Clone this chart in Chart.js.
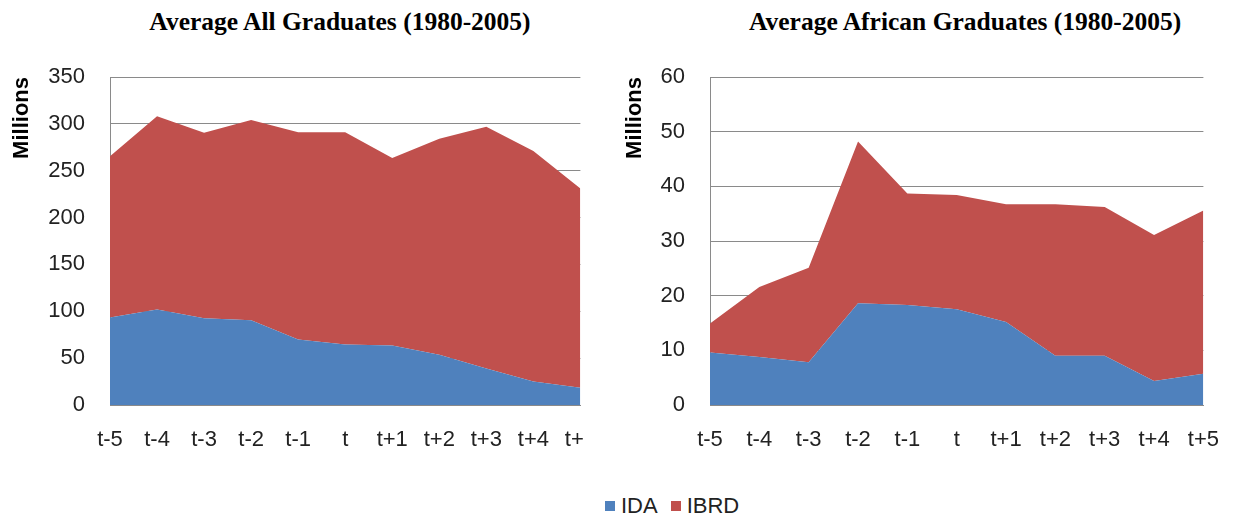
<!DOCTYPE html>
<html>
<head>
<meta charset="utf-8">
<script src="https://cdn.jsdelivr.net/npm/chart.js@4"></script>
<style>
  html, body { margin: 0; padding: 0; background: #fff; }
  body { width: 1239px; height: 516px; position: relative; overflow: hidden; }
  .panel { position: absolute; top: 0; height: 460px; overflow: hidden; }
  .title { position: absolute; top: 8px; font-family: "Liberation Serif", serif; font-weight: bold; font-size: 25.5px; line-height: 28px; color: #000; text-align: center; white-space: nowrap; }
  #legend { position: absolute; top: 493px; left: 605px; display: flex; align-items: center; font-family: "Liberation Sans", Arial, sans-serif; font-size: 22px; color: #222; }
  #legend .item { display: flex; align-items: center; margin-right: 13px; }
  #legend .sw { width: 10px; height: 10px; margin-right: 6px; }
</style>
</head>
<body>
<div class="title" style="left:140px;width:400px;">Average All Graduates (1980-2005)</div>
<div class="title" style="left:749px;width:400px;">Average African Graduates (1980-2005)</div>
<div class="panel" style="left:0;width:583px;"><canvas id="c1" width="618" height="460"></canvas></div>
<div class="panel" style="left:613px;width:626px;"><canvas id="c2" width="628" height="460"></canvas></div>
<div id="legend"></div>
<script>
// ---- data ----
const categories = ['t-5','t-4','t-3','t-2','t-1','t','t+1','t+2','t+3','t+4','t+5'];
const seriesNames = ['IDA', 'IBRD'];
const allIDA  = [93.5, 102, 92.5, 90.5, 70, 64.5, 63.5, 53.5, 39, 25, 18.5];
const allIBRD = [172, 206, 198, 213.5, 221, 226.5, 200, 230.5, 258, 246, 212.5];
const africaIDA  = [9.6, 8.8, 7.8, 18.6, 18.3, 17.5, 15.2, 9.0, 9.0, 4.4, 5.7];
const africaIBRD = [5.3, 12.8, 17.3, 29.6, 20.4, 20.9, 21.5, 27.7, 27.2, 26.7, 29.9];
const allTicks = [0, 50, 100, 150, 200, 250, 300, 350];
const africaTicks = [0, 10, 20, 30, 40, 50, 60];
const yTitle = 'Millions';

const colors = ['#4F81BD', '#C0504D'];
const gridColor = '#8A8A8A';
const tickColor = '#222222';

function makeChart(id, ida, ibrd, ticks, axisWidth, padRight) {
  const step = ticks[1] - ticks[0];
  return new Chart(document.getElementById(id), {
    type: 'line',
    data: {
      labels: categories,
      datasets: [
        { label: seriesNames[0], data: ida, backgroundColor: colors[0], borderColor: colors[0], borderWidth: 0, fill: 'origin', pointRadius: 0, tension: 0 },
        { label: seriesNames[1], data: ibrd, backgroundColor: colors[1], borderColor: colors[1], borderWidth: 0, fill: '-1', pointRadius: 0, tension: 0 }
      ]
    },
    options: {
      responsive: false,
      animation: false,
      devicePixelRatio: 1,
      layout: { padding: { top: 77, right: padRight, bottom: 0, left: 0 } },
      plugins: { legend: { display: false }, tooltip: { enabled: false }, title: { display: false } },
      scales: {
        x: {
          stacked: true,
          offset: false,
          grid: { display: false, drawTicks: false },
          border: { display: true, color: gridColor, width: 1 },
          ticks: { color: tickColor, font: { family: '"Liberation Sans", Arial, sans-serif', size: 22 }, padding: 22, maxRotation: 0, autoSkip: false },
          afterFit: (s) => { s.height = 55; }
        },
        y: {
          stacked: true,
          min: ticks[0],
          max: ticks[ticks.length - 1],
          grid: { color: gridColor, lineWidth: 1, drawTicks: false },
          border: { display: true, color: gridColor, width: 1 },
          ticks: { stepSize: step, color: tickColor, font: { family: '"Liberation Sans", Arial, sans-serif', size: 22 }, padding: 25 },
          title: { display: true, text: yTitle, align: 'end', color: '#000', font: { family: '"Liberation Sans", Arial, sans-serif', size: 22, weight: 'bold' }, padding: { top: 9, bottom: 0 } },
          afterFit: (s) => { s.width = axisWidth; }
        }
      }
    }
  });
}

makeChart('c1', allIDA, allIBRD, allTicks, 110, 0);
makeChart('c2', africaIDA, africaIBRD, africaTicks, 97, 0);

// shared legend
const leg = document.getElementById('legend');
seriesNames.forEach((n, i) => {
  const it = document.createElement('div'); it.className = 'item';
  const sw = document.createElement('div'); sw.className = 'sw'; sw.style.background = colors[i];
  const tx = document.createElement('span'); tx.textContent = n;
  it.appendChild(sw); it.appendChild(tx); leg.appendChild(it);
});
</script>
</body>
</html>
